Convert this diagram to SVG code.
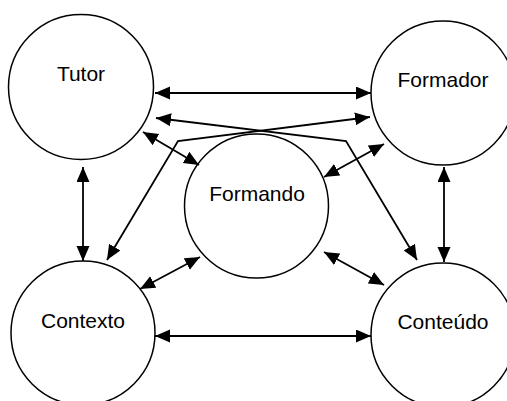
<svg xmlns="http://www.w3.org/2000/svg" width="507" height="401" viewBox="0 0 507 401">
<defs>
<marker id="ah" markerUnits="userSpaceOnUse" markerWidth="16" markerHeight="14" refX="15" refY="6.5" orient="auto-start-reverse">
<path d="M0,0 L15,6.5 L0,13 z" fill="#000"/>
</marker>
<style>
.node circle{fill:#fff;stroke:#000;stroke-width:1.5}
.node text{font-family:"Liberation Sans",Arial,sans-serif;font-size:21px;text-anchor:middle;fill:#000}
#connectors path{fill:none;stroke:#000;stroke-width:1.8;marker-start:url(#ah);marker-end:url(#ah)}
</style>
</defs>
<rect width="507" height="401" fill="#fff"/>
<g id="nodes">
<g id="tutor" class="node"><circle cx="81" cy="87" r="72.5"/><text x="81" y="81">Tutor</text></g>
<g id="formador" class="node"><circle cx="443" cy="93" r="72"/><text x="443" y="87">Formador</text></g>
<g id="formando" class="node"><circle cx="256.5" cy="206" r="72"/><text x="257" y="201">Formando</text></g>
<g id="contexto" class="node"><circle cx="83" cy="333" r="72"/><text x="83" y="328">Contexto</text></g>
<g id="conteudo" class="node"><circle cx="443" cy="335" r="72"/><text x="443" y="329">Conteúdo</text></g>
</g>
<g id="connectors">
<path d="M155,93 L371,93"/>
<path d="M156,118 L346,141 L417,260"/>
<path d="M107,260 L178,141 L370,117"/>
<path d="M143,132 L199,165"/>
<path d="M324,177 L384,144"/>
<path d="M83,167 L83,261"/>
<path d="M444,167 L444,262"/>
<path d="M140,289 L200,257"/>
<path d="M324,252 L384,285"/>
<path d="M155,336 L371,336"/>
</g>
</svg>
